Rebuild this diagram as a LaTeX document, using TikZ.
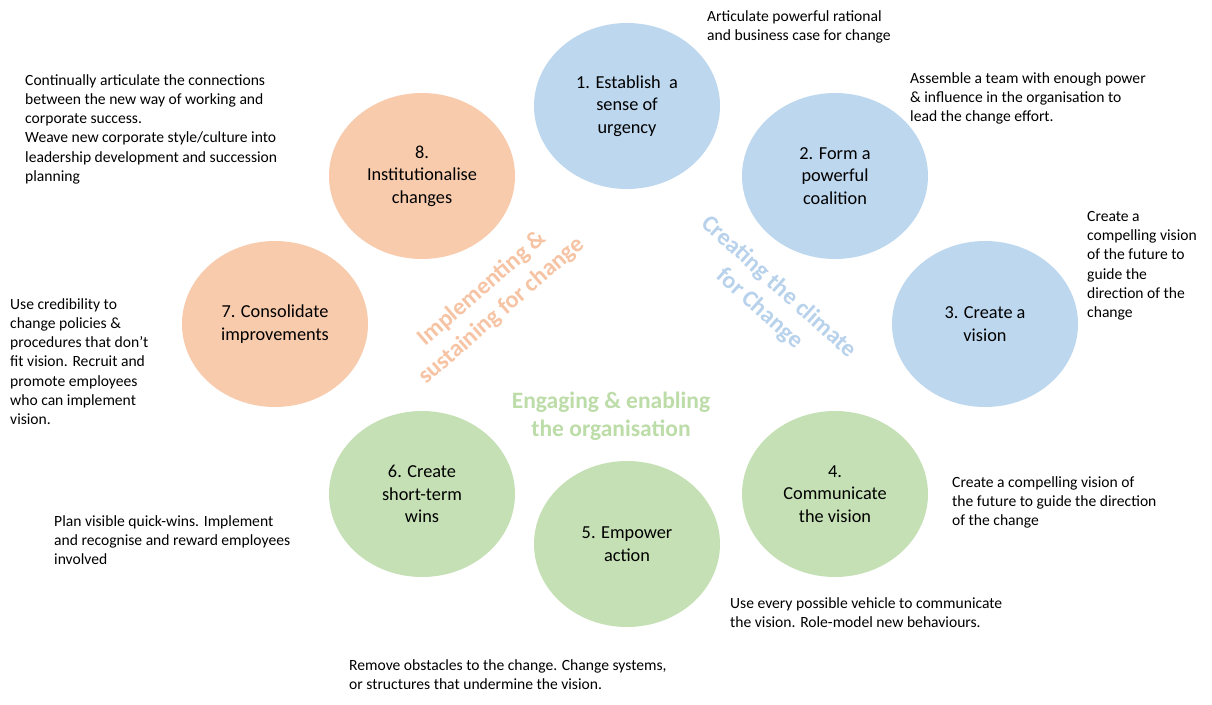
\documentclass[tikz,border=0pt]{standalone}
\usepackage{fontspec}
\setmainfont{Carlito}
\usetikzlibrary{shapes.geometric}
\definecolor{cblue}{HTML}{BDD7EE}
\definecolor{cgreen}{HTML}{C5E0B4}
\definecolor{corange}{HTML}{F8CBAD}
\definecolor{tblue}{HTML}{B8D2EC}
\definecolor{tgreen}{HTML}{BCDCA8}
\definecolor{torange}{HTML}{F6C4A4}
\begin{document}
\begin{tikzpicture}[x=1pt,y=-1pt,
  stage/.style={ellipse,minimum width=186pt,minimum height=166pt,inner sep=0pt,align=center,
    font=\fontsize{18.3}{22.5}\selectfont},
  note/.style={anchor=north west,inner sep=0pt,align=left,font=\fontsize{15.6}{19.3}\selectfont},
  phase/.style={align=center,inner sep=0pt,font=\bfseries\fontsize{24}{29}\selectfont}]
\useasboundingbox (0,0) rectangle (1212,704);
\fill[white] (0,0) rectangle (1212,704);
% stages
\node[stage,fill=cblue] (s1) at (627,106) {1. Establish\ \ a\\sense of\\urgency};
\node[stage,fill=cblue] (s2) at (835,176) {2. Form a\\powerful\\coalition};
\node[stage,fill=cblue] (s3) at (985,324) {3. Create a\\vision};
\node[stage,fill=cgreen] (s4) at (835,494) {4.\\Communicate\\the vision};
\node[stage,fill=cgreen] (s5) at (627,544) {5. Empower\\action};
\node[stage,fill=cgreen] (s6) at (422,494) {6. Create\\short-term\\wins};
\node[stage,fill=corange] (s7) at (275,324) {7. Consolidate\\improvements};
\node[stage,fill=corange] (s8) at (422,176) {8.\\Institutionalise\\changes};
% phases
\node[phase,text=torange,rotate=41] (p1) at (492,300) {Implementing \&\\sustaining for change};
\node[phase,text=tblue,rotate=-42] (p2) at (769,298) {Creating the climate\\for Change};
\node[phase,text=tgreen,font=\bfseries\fontsize{23.5}{28}\selectfont] (p3) at (611,416) {Engaging \& enabling\\the organisation};
% notes
\node[note] (n1) at (707,10) {Articulate powerful rational\\and business case for change};
\node[note] (n2) at (910,72) {Assemble a team with enough power\\\& influence in the organisation to\\lead the change effort.};
\node[note] (n3) at (1087,211) {Create a\\compelling vision\\of the future to\\guide the\\direction of the\\change};
\node[note] (n4) at (952,476) {Create a compelling vision of\\the future to guide the direction\\of the change};
\node[note] (n5) at (730,597) {Use every possible vehicle to communicate\\the vision. Role-model new behaviours.};
\node[note] (n6) at (349,659) {Remove obstacles to the change. Change systems,\\or structures that undermine the vision.};
\node[note] (n7) at (54,515) {Plan visible quick-wins. Implement\\and recognise and reward employees\\involved};
\node[note] (n8) at (10,298) {Use credibility to\\change policies \&\\procedures that don’t\\fit vision. Recruit and\\promote employees\\who can implement\\vision.};
\node[note] (n9) at (25,74) {Continually articulate the connections\\between the new way of working and\\corporate success.\\Weave new corporate style/culture into\\leadership development and succession\\planning};
\end{tikzpicture}
\end{document}
